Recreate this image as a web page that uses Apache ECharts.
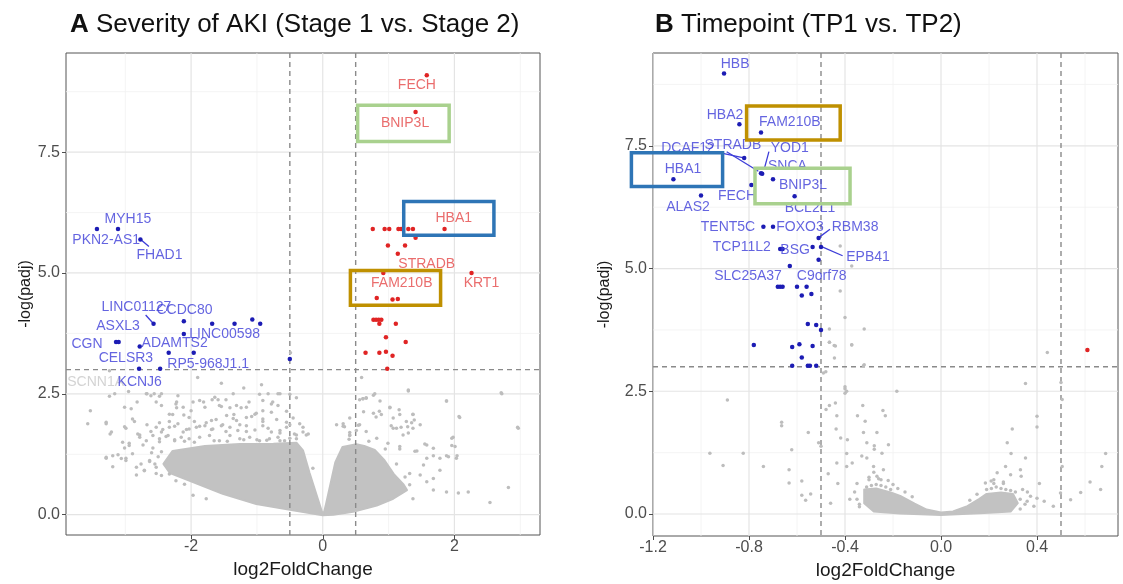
<!DOCTYPE html>
<html>
<head>
<meta charset="utf-8">
<script src="https://cdn.jsdelivr.net/npm/echarts@6/dist/echarts.min.js"></script>
<style>
  html, body { margin: 0; padding: 0; background: #fff; }
  #main { width: 1123px; height: 584px; }
</style>
</head>
<body>
<div id="main"></div>
<script>
// volcano plots: A = AKI stage 1 vs 2, B = TP1 vs TP2
var FONT = '"Liberation Sans", Arial, Helvetica, sans-serif';

// ---- panel A data [log2FoldChange, -log(padj)] ----
var redA = [[1.58,9.09],[1.41,8.33],[1.85,5.91],[0.76,5.91],[0.94,5.91],[1.01,5.91],[1.15,5.91],[1.19,5.91],
  [1.30,5.91],[1.37,5.91],[1.41,5.73],[0.99,5.57],[1.25,5.57],[1.14,5.40],[2.26,5.0],[0.92,5.0],[0.82,4.48],
  [1.06,4.45],[1.14,4.46],[0.77,4.03],[0.81,4.03],[0.85,4.03],[0.89,4.03],[0.86,3.95],[1.11,3.95],[0.96,3.67],
  [1.26,3.57],[0.65,3.35],[0.86,3.35],[0.96,3.37],[1.06,3.29],[0.98,3.02]];
var blueA = [[-3.43,5.91],[-3.11,5.91],[-2.77,5.69],[-2.11,4.0],[-1.68,3.95],[-1.34,3.95],[-1.07,4.04],
  [-0.95,3.95],[-2.57,3.95],[-2.11,3.74],[-3.14,3.57],[-3.10,3.57],[-2.78,3.48],[-2.34,3.35],[-1.96,3.35],
  [-0.50,3.22],[-2.79,3.02],[-2.47,3.02]];
// dense part of the non-significant cloud (outline)
var cloudA = [[0,-0.01],[-0.5,0.10],[-1.01,0.22],[-1.52,0.43],[-2.02,0.70],[-2.32,0.86],[-2.42,1.05],
  [-2.28,1.32],[-1.79,1.42],[-1.26,1.46],[-0.75,1.47],[-0.40,1.49],[-0.30,1.33],[-0.20,0.86],[-0.05,0.22],
  [-0.01,0.05],[0.02,0.05],[0.05,0.22],[0.19,1.08],[0.30,1.40],[0.51,1.46],[0.63,1.42],[0.79,1.34],
  [0.94,1.12],[1.08,0.84],[1.23,0.62],[1.28,0.51],[1.07,0.33],[0.82,0.19],[0.46,0.06],[0.16,0.0]];
var greyA = [[-3.53,2.15],[-3.57,1.88],[-3.29,1.88],[-3.23,1.67],[-3.24,2.45],[-3.01,2.22],[-2.91,2.19],
  [-2.82,2.33],[-2.67,2.5],[-2.56,2.5],[-2.48,2.45],[-2.53,2.33],[-2.22,2.33],[-2.22,2.21],[-2.28,2.07],
  [-2.11,2.06],[-1.97,2.33],[-1.81,2.33],[-1.68,2.38],[-1.59,2.38],[-1.47,2.38],[-1.54,2.24],[-1.41,2.21],
  [-1.24,2.21],[-1.35,2.07],[-1.12,2.33],[-0.96,2.49],[-0.83,2.5],[-0.68,2.5],[-0.76,2.33],[-0.50,2.49],
  [-0.40,2.42],[-2.99,1.79],[-2.86,1.93],[-2.67,1.86],[-2.61,1.72],[-2.48,1.90],[-2.43,1.76],[-2.33,1.93],
  [-2.25,1.83],[-2.07,1.76],[-1.95,1.93],[-1.87,1.83],[-1.77,1.90],[-1.69,1.76],[-1.62,1.97],[-1.52,1.86],
  [-1.47,1.72],[-1.36,1.99],[-1.26,1.86],[-1.16,1.72],[-1.08,2.03],[-1.01,2.10],[-0.91,1.93],[-0.83,1.79],
  [-0.70,1.97],[-0.55,2.14],[-0.50,1.86],[-0.45,2.0],[-0.65,1.69],[-0.40,1.65],[-0.25,1.65],[-0.15,0.96],
  [-3.29,1.17],[-3.19,0.99],[-3.11,1.24],[-3.01,1.38],[-2.99,1.17],[-2.94,1.48],[-2.83,0.82],[-2.78,1.65],
  [-2.71,0.92],[-2.63,1.10],[-2.53,0.85],[-2.73,1.44],[-2.58,1.38],[-2.48,1.51],[-2.38,1.62],[-2.25,1.55],
  [-1.97,0.40],[-1.77,0.33],[0.31,1.83],[0.41,2.0],[0.56,2.38],[0.66,2.42],[0.77,2.47],[0.87,2.35],
  [0.77,2.10],[0.89,2.07],[1.02,2.21],[1.07,2.0],[1.17,2.07],[1.27,1.93],[1.30,2.56],[1.37,2.07],[1.35,1.90],
  [1.48,1.86],[1.37,1.79],[1.30,1.69],[1.07,1.79],[1.22,1.65],[1.58,1.44],[1.68,1.375],[1.40,1.31],
  [1.58,1.17],[1.78,1.17],[1.88,2.35],[2.08,2.01],[1.96,1.58],[2.01,1.41],[1.91,1.20],[2.03,1.17],[2.72,2.5],
  [2.97,1.79],[2.82,0.56],[2.54,0.25],[2.21,0.47],[2.06,0.45],[1.88,0.47],[1.68,0.51],[1.58,0.68],[1.48,0.82],
  [1.37,0.33],[1.32,0.85],[1.68,0.75],[1.78,0.92],[1.53,1.03],[1.12,1.79],[0.56,1.86],[0.66,1.72],[0.82,1.58],
  [0.99,1.48],[1.17,1.41],[0.41,1.65],[0.21,1.86],[0.59,2.84],[1.30,2.58],[2.71,2.52],[1.88,2.35],[2.07,2.03],
  [2.96,1.81],[0.79,2.50],[0.61,2.40],[0.66,2.41],[1.02,2.22],[1.16,2.17],[1.37,2.08],[0.86,2.14],[0.62,2.13],
  [-0.30,1.81],[0.33,1.82],[0.54,1.85],[0.81,2.02],[1.04,1.84],[1.19,1.81],[1.29,1.82],[1.39,1.96],[1.98,1.60],
  [1.96,1.43],[2.04,1.22],[1.55,1.46],[1.68,1.22],[1.43,1.32],[1.17,1.36],[1.88,1.22],[0.41,1.70],[-3.24,2.98],
  [-1.90,2.84],[-1.54,2.72],[-0.93,2.69],[-0.49,3.35],[-2.95,2.55],[-1.20,2.62]];
// scattered points around the left wedge
var greyA2 = [[-3.16,2.50],[-2.68,2.50],[-2.61,2.46],[-2.45,2.50],[-2.20,2.46],[-1.87,2.36],[-1.64,2.43],
  [-1.36,2.50],[-0.91,2.36],[-0.78,2.29],[-0.65,2.50],[-2.45,2.26],[-2.23,2.29],[-2.12,2.22],[-2.0,2.15],
  [-1.79,2.22],[-1.57,2.26],[-1.31,2.26],[-1.16,2.22],[-1.03,2.08],[-0.91,2.15],[-0.78,2.12],[-0.68,2.26],
  [-3.29,1.91],[-2.89,1.98],[-2.33,2.08],[-2.03,2.01],[-1.69,1.95],[-1.46,2.05],[-1.31,1.95],[-1.16,2.01],
  [-0.91,1.98],[-0.55,1.91],[-0.35,1.88],[-3.21,1.71],[-3.01,1.82],[-2.81,1.67],[-2.53,1.81],[-2.45,1.71],
  [-2.33,1.81],[-2.20,1.88],[-2.12,1.71],[-2.03,1.77],[-1.92,1.81],[-1.79,1.84],[-1.67,1.77],[-1.54,1.84],
  [-1.41,1.81],[-1.29,1.74],[-1.16,1.84],[-1.03,1.75],[-0.91,1.84],[-0.78,1.71],[-0.65,1.74],[-0.55,1.81],
  [-0.43,1.67],[-0.30,1.71],[-0.22,1.67],[-3.04,1.50],[-2.94,1.43],[-2.78,1.60],[-2.68,1.53],[-2.58,1.64],
  [-2.48,1.57],[-2.35,1.64],[-2.25,1.53],[-2.15,1.60],[-2.03,1.57],[-1.87,1.60],[-1.72,1.64],[-1.57,1.53],
  [-1.41,1.64],[-1.26,1.57],[-1.11,1.60],[-0.96,1.53],[-0.81,1.57],[-0.68,1.60],[-0.58,1.53],[-0.40,1.57],
  [-3.29,1.19],[-3.19,1.22],[-3.06,1.16],[-2.99,1.12],[-2.89,1.26],[-2.83,0.98],[-2.76,1.05],[-2.71,0.91],
  [-2.63,1.12],[-2.53,0.98],[-2.45,0.81],[-2.33,0.84],[-2.23,0.70],[-2.10,0.63],[0.31,1.88],[0.41,1.64],
  [0.51,1.74],[0.61,2.40],[-2.50,1.20],[-2.45,1.30],[-2.10,1.52],[-1.65,1.53],[-1.20,1.55],[-0.85,1.54],
  [-0.50,1.58],[0.40,1.56],[0.70,1.52],[0.95,1.36],[1.12,1.05],[1.25,0.78],[1.32,0.62],[-1.95,1.50],
  [-1.45,1.52],[-1.00,1.55],[-0.65,1.53],[-2.60,1.28],[-2.55,1.05]];
var labRedA = [['FECH',1.43,8.88],['BNIP3L',1.25,8.10],['HBA1',1.99,6.13],['STRADB',1.58,5.18],
  ['KRT1',2.41,4.78],['FAM210B',1.20,4.79]];
var labBlueA = [['MYH15',-2.96,6.12],['PKN2-AS1',-3.29,5.67],['FHAD1',-2.48,5.36],['LINC01127',-2.83,4.29],
  ['CCDC80',-2.10,4.24],['ASXL3',-3.11,3.91],['LINC00598',-1.49,3.73],['CGN',-3.58,3.53],['ADAMTS2',-2.25,3.55],
  ['CELSR3',-2.99,3.24],['RP5-968J1.1',-1.74,3.12],['KCNJ6',-2.78,2.74]];
var labGreyA = [['SCNN1A',-3.45,2.74]];
var linksA = [[[-2.78,5.71],[-2.64,5.55]],[[-2.69,4.13],[-2.57,3.95]]];

// ---- panel B data ----
var redB = [[0.61,3.34]];
var blueB = [[-0.904,8.97],[-0.84,7.94],[-0.75,7.77],[-0.82,7.25],[-0.75,6.94],[-0.745,6.93],[-0.70,6.82],
  [-1.115,6.82],[-0.79,6.70],[-0.61,6.47],[-1.0,6.49],[-0.74,5.85],[-0.70,5.85],[-0.51,5.62],[-0.67,5.40],
  [-0.66,5.40],[-0.535,5.44],[-0.50,5.44],[-0.51,5.18],[-0.63,5.05],[-0.68,4.63],[-0.67,4.63],[-0.66,4.63],
  [-0.60,4.63],[-0.56,4.63],[-0.58,4.45],[-0.54,4.48],[-0.555,3.87],[-0.52,3.85],[-0.50,3.75],[-0.78,3.44],
  [-0.62,3.40],[-0.59,3.46],[-0.535,3.42],[-0.58,3.19],[-0.62,3.02],[-0.555,3.02],[-0.546,3.02],[-0.52,3.02]];
var cloudB = [[-0.32,0.50],[-0.27,0.52],[-0.21,0.44],[-0.17,0.37],[-0.11,0.21],[-0.06,0.09],[0,0.03],
  [0.05,0.05],[0.11,0.16],[0.16,0.31],[0.19,0.41],[0.25,0.44],[0.30,0.41],[0.32,0.22],[0.29,0.05],
  [0.18,0.02],[0,-0.02],[-0.17,0.01],[-0.28,0.05],[-0.32,0.22]];
var greyB = [[-0.963,1.24],[-0.824,1.24],[-0.908,0.99],[-0.74,0.97],[-0.89,2.32],[-0.664,1.87],[-0.664,1.80],
  [-0.553,1.66],[-0.622,1.31],[-0.633,0.90],[-0.633,0.63],[-0.58,0.67],[-0.58,0.38],[-0.564,0.28],[-0.543,0.41],
  [-0.51,1.45],[-0.50,1.38],[-0.479,2.13],[-0.465,2.21],[-0.44,2.26],[-0.434,2.0],[-0.437,1.73],[-0.418,1.55],
  [-0.39,1.51],[-0.393,1.23],[-0.434,1.04],[-0.393,0.97],[-0.37,1.04],[-0.47,0.82],[-0.43,0.62],[-0.46,0.22],
  [-0.40,2.59],[-0.393,2.5],[-0.348,2.0],[-0.326,2.21],[-0.316,1.89],[-0.323,1.66],[-0.309,1.45],[-0.278,1.39],
  [-0.278,1.32],[-0.267,1.66],[-0.242,2.11],[-0.232,2.0],[-0.219,1.41],[-0.246,1.24],[-0.33,1.18],[-0.309,1.14],
  [-0.281,0.97],[-0.267,0.77],[-0.184,2.5],[-0.372,3.45],[-0.44,3.42],[-0.465,3.5],[-0.49,2.87],[-0.323,3.02],
  [0.443,3.29],[0.352,2.66],[0.50,2.68],[0.40,1.99],[0.40,1.77],[0.297,1.73],[0.276,1.45],[0.292,1.23],
  [0.352,1.14],[0.41,0.62],[0.331,0.90],[0.29,0.80],[0.269,0.97],[0.234,0.84],[0.209,0.67],[0.185,0.63],
  [0.334,0.77],[0.505,0.97],[0.498,0.43],[0.54,0.29],[0.582,0.44],[0.621,0.65],[0.665,0.50],[0.67,0.97],
  [0.686,1.23],[0.468,0.16],[0.43,0.26],[0.387,0.16],[0.359,0.26],[0.373,0.36],[0.505,2.33],[-0.42,5.46],
  [-0.372,5.05],[-0.42,4.54],[-0.40,4.0],[-0.32,3.77],[-0.465,3.77],[-0.465,3.50],[-0.445,3.43],[-0.372,3.44],
  [-0.444,3.18],[-0.32,3.04],[-0.40,2.55],[-0.40,2.46],[-0.48,2.9],[-0.35,0.62],[-0.30,0.75],[-0.25,0.70],
  [-0.36,0.45],[-0.38,0.30],[-0.34,0.20],[0.22,0.70],[0.26,0.62],[0.36,0.45],[0.34,0.50],[0.40,0.32],
  [-0.31,0.55],[-0.29,0.58],[-0.27,0.60],[-0.25,0.58],[-0.23,0.55],[-0.21,0.50],[-0.30,0.70],[-0.26,0.72],
  [-0.22,0.68],[-0.20,0.60],[-0.18,0.52],[-0.15,0.45],[-0.12,0.35],[-0.28,0.85],[-0.24,0.90],[0.19,0.50],
  [0.21,0.52],[0.23,0.55],[0.25,0.52],[0.27,0.50],[0.29,0.48],[0.31,0.45],[0.22,0.62],[0.26,0.65],[0.15,0.40],
  [0.12,0.28],[0.33,0.30],[0.35,0.20],[-0.35,0.30],[-0.34,0.15],[0.33,0.10]];
var labBlueB = [['HBB',-0.858,9.17],['HBA2',-0.90,8.13],['FAM210B',-0.63,7.99],['DCAF12',-1.054,7.46],
  ['STRADB',-0.867,7.52],['YOD1',-0.63,7.46],['SNCA',-0.64,7.09],['HBA1',-1.075,7.03],['FECH',-0.85,6.48],
  ['BNIP3L',-0.575,6.69],['ALAS2',-1.054,6.26],['BCL2L1',-0.546,6.24],['TENT5C',-0.8875,5.85],
  ['FOXO3',-0.5875,5.85],['RBM38',-0.358,5.85],['TCP11L2',-0.83,5.44],['BSG',-0.608,5.38],['EPB41',-0.304,5.23],
  ['SLC25A37',-0.804,4.84],['C9orf78',-0.497,4.84]];
var linksB = [[[-0.893,7.38],[-0.761,6.98]],[[-0.914,7.35],[-0.817,7.25]],[[-0.717,7.38],[-0.7375,7.01]],
  [[-0.4625,5.80],[-0.507,5.64]],[[-0.495,5.44],[-0.41,5.26]]];

// ---- axes ----
var yMajor = [0, 2.5, 5, 7.5], yMinor = [1.25, 3.75, 6.25, 8.75];
var xMajorA = [-2, 0, 2], xMinorA = [-3, -1, 1, 3];
var xMajorB = [-1.2, -0.8, -0.4, 0, 0.4], xMinorB = [-1.0, -0.6, -0.2, 0.2, 0.6];
var cutX = [-0.5, 0.5], cutY = [3];

// highlight boxes [x1, y1, x2, y2] in data units
var boxesA = [[0.53,8.47,1.92,7.72],[1.23,6.48,2.60,5.78],[0.42,5.05,1.79,4.33]];
var boxesB = [[-0.81,8.31,-0.42,7.62],[-1.29,7.36,-0.91,6.67],[-0.775,7.04,-0.379,6.32]];
var boxColorsA = ['#a9d18e', '#2e75b6', '#bf9000'];
var boxColorsB = ['#bf9000', '#2e75b6', '#a9d18e'];

var chart = echarts.init(document.getElementById('main'));

function rules(gi, vals, vertical, style, dashed) {
  return {
    type: 'custom', xAxisIndex: gi, yAxisIndex: gi, silent: true, clip: true,
    data: vals.map(function (v) { return vertical ? [v, 1] : [0, v]; }),
    renderItem: function (params, api) {
      var cs = params.coordSys;
      var p = api.coord([api.value(0), api.value(1)]);
      var shape = vertical ? { x1: p[0], y1: cs.y, x2: p[0], y2: cs.y + cs.height }
                           : { x1: cs.x, y1: p[1], x2: cs.x + cs.width, y2: p[1] };
      return { type: 'line', shape: shape,
        style: { stroke: style[0], lineWidth: style[1], lineDash: dashed ? [5, 4] : null } };
    }
  };
}

function cloud(gi, pts) {
  return {
    type: 'custom', xAxisIndex: gi, yAxisIndex: gi, silent: true, clip: true,
    data: [[0, 0]],
    renderItem: function (params, api) {
      return { type: 'polygon', shape: { points: pts.map(function (p) { return api.coord(p); }) },
        style: { fill: '#c2c2c2', stroke: '#c2c2c2', lineWidth: 2, lineJoin: 'round' } };
    }
  };
}

function dots(gi, data, color, size) {
  return { type: 'scatter', xAxisIndex: gi, yAxisIndex: gi, silent: true, data: data,
    symbolSize: size, itemStyle: { color: color, opacity: 1 } };
}

function labels(gi, list, color) {
  return { type: 'scatter', xAxisIndex: gi, yAxisIndex: gi, silent: true, symbolSize: 0,
    data: list.map(function (d) { return { name: d[0], value: [d[1], d[2]] }; }),
    label: { show: true, position: 'inside', formatter: '{b}', color: color,
      fontSize: 14, fontFamily: FONT } };
}

function links(gi, list, color) {
  return { type: 'lines', coordinateSystem: 'cartesian2d', xAxisIndex: gi, yAxisIndex: gi, silent: true,
    data: list.map(function (c) { return { coords: c }; }),
    lineStyle: { color: color, width: 1.3, opacity: 1 } };
}

function xAxis(gi, min, max, ticks, fmt) {
  return { type: 'value', gridIndex: gi, min: min, max: max,
    name: 'log2FoldChange', nameLocation: 'middle', nameGap: 24,
    nameTextStyle: { fontSize: 19, color: '#1a1a1a', fontFamily: FONT },
    axisLine: { show: false, onZero: false }, splitLine: { show: false },
    axisTick: { show: true, customValues: ticks, length: 4, lineStyle: { color: '#4d4d4d' } },
    axisLabel: { customValues: ticks, formatter: fmt, fontSize: 16, color: '#4d4d4d', margin: 4, fontFamily: FONT } };
}

function yAxis(gi, min, max, gap) {
  return { type: 'value', gridIndex: gi, min: min, max: max,
    name: '-log(padj)', nameLocation: 'middle', nameGap: gap,
    nameTextStyle: { fontSize: 16, color: '#1a1a1a', fontFamily: FONT },
    axisLine: { show: false, onZero: false }, splitLine: { show: false },
    axisTick: { show: true, customValues: yMajor, length: 4, lineStyle: { color: '#4d4d4d' } },
    axisLabel: { customValues: yMajor, formatter: function (v) { return v.toFixed(1); },
      fontSize: 16, color: '#4d4d4d', margin: 6, fontFamily: FONT } };
}

var minorStyle = ['#f1f1f1', 0.8], majorStyle = ['#e4e4e4', 1.2], cutStyle = ['#8a8a8a', 1.4];
var blueDot = '#1c1cb4', blueText = '#3d3dd8', redDot = '#e02424', redText = '#e54848';
var titleStyle = { fontSize: 26, fontWeight: 'normal', color: '#111', fontFamily: FONT,
  rich: { b: { fontSize: 26, fontWeight: 'bold', color: '#111', fontFamily: FONT } } };

chart.setOption({
  animation: false,
  backgroundColor: '#fff',
  title: [
    { text: '{b|A} Severity of AKI (Stage 1 vs. Stage 2)', left: 65, top: 7, textStyle: titleStyle },
    { text: '{b|B} Timepoint (TP1 vs. TP2)', left: 650, top: 7, textStyle: titleStyle }
  ],
  grid: [
    { left: 66, top: 53, width: 474, height: 482, show: true, borderColor: '#555', borderWidth: 1,
      backgroundColor: '#fff', containLabel: false, outerBoundsMode: 'none' },
    { left: 653, top: 53, width: 465, height: 483, show: true, borderColor: '#555', borderWidth: 1,
      backgroundColor: '#fff', containLabel: false, outerBoundsMode: 'none' }
  ],
  xAxis: [
    xAxis(0, -3.9, 3.3, xMajorA, function (v) { return String(v); }),
    xAxis(1, -1.2, 0.7375, xMajorB, function (v) { return v.toFixed(1); })
  ],
  yAxis: [yAxis(0, -0.42, 9.55, 30), yAxis(1, -0.448, 9.39, 40)],
  series: [
    rules(0, xMinorA, true, minorStyle), rules(0, yMinor, false, minorStyle),
    rules(0, xMajorA, true, majorStyle), rules(0, yMajor, false, majorStyle),
    rules(1, xMinorB, true, minorStyle), rules(1, yMinor, false, minorStyle),
    rules(1, xMajorB, true, majorStyle), rules(1, yMajor, false, majorStyle),
    cloud(0, cloudA), cloud(1, cloudB),
    dots(0, greyA, '#bdbdbd', 3.5), dots(0, greyA2, '#bdbdbd', 3.5), dots(1, greyB, '#bdbdbd', 3.5),
    rules(0, cutX, true, cutStyle, true), rules(0, cutY, false, cutStyle, true),
    rules(1, cutX, true, cutStyle, true), rules(1, cutY, false, cutStyle, true),
    dots(0, redA, redDot, 4.5), dots(0, blueA, blueDot, 4.5),
    dots(1, redB, redDot, 4.5), dots(1, blueB, blueDot, 4.5),
    links(0, linksA, blueText), links(1, linksB, blueText),
    labels(0, labGreyA, '#c8c8c8'), labels(0, labRedA, redText), labels(0, labBlueA, blueText),
    labels(1, labBlueB, blueText)
  ]
});

function boxGraphics(gi, boxes, colors) {
  return boxes.map(function (b, i) {
    var p1 = chart.convertToPixel({ gridIndex: gi }, [b[0], b[1]]);
    var p2 = chart.convertToPixel({ gridIndex: gi }, [b[2], b[3]]);
    return { type: 'rect', z: 100, silent: true,
      shape: { x: p1[0], y: p1[1], width: p2[0] - p1[0], height: p2[1] - p1[1] },
      style: { fill: null, stroke: colors[i], lineWidth: 3.5 } };
  });
}

chart.setOption({ graphic: boxGraphics(0, boxesA, boxColorsA).concat(boxGraphics(1, boxesB, boxColorsB)) });
</script>
</body>
</html>
